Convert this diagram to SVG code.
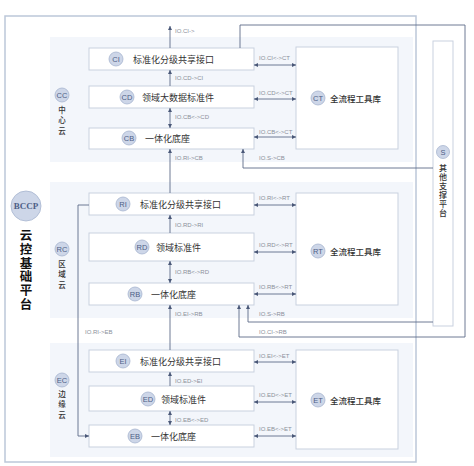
<svg xmlns="http://www.w3.org/2000/svg" width="474" height="466" viewBox="0 0 474 466">
<style>
text{font-family:"Noto Sans CJK SC","Noto Sans",sans-serif;dominant-baseline:central}
.frame{fill:#fff;stroke:#bcc7d9;stroke-width:1.5}
.panel{fill:#f3f6fb;stroke:none}
.box{fill:#fff;stroke:#c9d1df;stroke-width:1}
.circ{fill:#cdd6e8;stroke:#a7b5cf;stroke-width:0.8}
.ct{font-family:"Liberation Sans","Noto Sans",sans-serif;font-size:7.5px;fill:#4d5e86;text-anchor:middle}
.bt{font-size:9px;fill:#333}
.tt{font-size:8.5px;fill:#333;font-weight:500}
.vt{font-size:7.5px;fill:#333;font-weight:500;writing-mode:vertical-rl;letter-spacing:3px}
.lbl{font-family:"Liberation Sans",sans-serif;font-size:6px;fill:#8a8f9a}
.ln{fill:none;stroke:#5d6b88;stroke-width:0.9}
</style>
<defs>
<marker id="ah" viewBox="0 0 6 6" refX="6" refY="3" markerWidth="4" markerHeight="4" markerUnits="userSpaceOnUse" orient="auto-start-reverse"><path d="M0,0 L6,3 L0,6 Z" fill="#4a5878"/></marker>
</defs>
<rect class="frame" x="5" y="16" width="411" height="446"/>
<rect class="panel" x="50" y="37" width="363" height="125"/>
<rect class="panel" x="50" y="182" width="363" height="136"/>
<rect class="panel" x="50" y="343" width="363" height="114"/>

<g id="BCCP">
<circle class="circ" cx="26" cy="206" r="15"/>
<text x="26" y="206" style="font-family:'Liberation Serif',serif;font-size:9px;font-weight:bold;fill:#4d5e86;text-anchor:middle">BCCP</text>
<text x="26" y="229" style="font-size:12.5px;font-weight:bold;fill:#111;writing-mode:vertical-rl;letter-spacing:1.3px">云控基础平台</text>
</g>

<g id="CC"><circle class="circ" cx="62" cy="95" r="7"/><text class="ct" x="62" y="95">CC</text>
<text class="vt" x="62" y="106">中心云</text></g>
<g id="RC"><circle class="circ" cx="62" cy="249" r="7"/><text class="ct" x="62" y="249">RC</text>
<text class="vt" x="62" y="260">区域云</text></g>
<g id="EC"><circle class="circ" cx="62" cy="380" r="7"/><text class="ct" x="62" y="380">EC</text>
<text class="vt" x="62" y="390">边缘云</text></g>

<g id="CI"><rect class="box" x="89" y="48" width="165" height="22"/><circle class="circ" cx="116" cy="59" r="7"/><text class="ct" x="116" y="59">CI</text><text class="bt" x="133" y="59">标准化分级共享接口</text></g>
<g id="CD"><rect class="box" x="89" y="86" width="165" height="22"/><circle class="circ" cx="127" cy="97" r="7"/><text class="ct" x="127" y="97">CD</text><text class="bt" x="142" y="97">领域大数据标准件</text></g>
<g id="CB"><rect class="box" x="89" y="128" width="165" height="21"/><circle class="circ" cx="129" cy="138" r="7"/><text class="ct" x="129" y="138">CB</text><text class="bt" x="145" y="138">一体化底座</text></g>
<g id="CT"><rect class="box" x="296" y="47" width="102" height="102"/><circle class="circ" cx="318" cy="98" r="7"/><text class="ct" x="318" y="98">CT</text><text class="tt" x="330" y="98">全流程工具库</text></g>

<g id="RI"><rect class="box" x="89" y="193" width="165" height="22"/><circle class="circ" cx="123" cy="204" r="7"/><text class="ct" x="123" y="204">RI</text><text class="bt" x="140" y="204">标准化分级共享接口</text></g>
<g id="RD"><rect class="box" x="89" y="233" width="165" height="28"/><circle class="circ" cx="142" cy="247" r="7"/><text class="ct" x="142" y="247">RD</text><text class="bt" x="156" y="247">领域标准件</text></g>
<g id="RB"><rect class="box" x="89" y="283" width="165" height="22"/><circle class="circ" cx="135" cy="294" r="7"/><text class="ct" x="135" y="294">RB</text><text class="bt" x="151" y="294">一体化底座</text></g>
<g id="RT"><rect class="box" x="296" y="193" width="102" height="112"/><circle class="circ" cx="318" cy="251" r="7"/><text class="ct" x="318" y="251">RT</text><text class="tt" x="330" y="251">全流程工具库</text></g>

<g id="EI"><rect class="box" x="89" y="350" width="165" height="22"/><circle class="circ" cx="123" cy="361" r="7"/><text class="ct" x="123" y="361">EI</text><text class="bt" x="140" y="361">标准化分级共享接口</text></g>
<g id="ED"><rect class="box" x="89" y="386" width="165" height="25"/><circle class="circ" cx="148" cy="399" r="7"/><text class="ct" x="148" y="399">ED</text><text class="bt" x="161" y="399">领域标准件</text></g>
<g id="EB"><rect class="box" x="89" y="425" width="165" height="22"/><circle class="circ" cx="135" cy="436" r="7"/><text class="ct" x="135" y="436">EB</text><text class="bt" x="151" y="436">一体化底座</text></g>
<g id="ET"><rect class="box" x="296" y="350" width="102" height="99"/><circle class="circ" cx="318" cy="400" r="7"/><text class="ct" x="318" y="400">ET</text><text class="tt" x="330" y="400">全流程工具库</text></g>

<g id="S"><rect class="box" x="433" y="41" width="20" height="285"/><circle class="circ" cx="443" cy="152" r="6.5"/><text class="ct" x="443" y="152">S</text>
<text class="vt" x="443" y="164" style="font-size:8px;letter-spacing:1px">其他支撑平台</text></g>

<g id="connectors">
<path class="ln" d="M170,48 V26" marker-end="url(#ah)"/>
<path class="ln" d="M170,86 V70" marker-end="url(#ah)"/>
<path class="ln" d="M170,128 V108" marker-start="url(#ah)" marker-end="url(#ah)"/>
<path class="ln" d="M170,193 V149" marker-end="url(#ah)"/>
<path class="ln" d="M170,233 V215" marker-end="url(#ah)"/>
<path class="ln" d="M170,283 V261" marker-start="url(#ah)" marker-end="url(#ah)"/>
<path class="ln" d="M170,350 V305" marker-end="url(#ah)"/>
<path class="ln" d="M170,386 V372" marker-end="url(#ah)"/>
<path class="ln" d="M170,425 V411" marker-start="url(#ah)" marker-end="url(#ah)"/>

<path class="ln" d="M254,65 H296" marker-start="url(#ah)" marker-end="url(#ah)"/>
<path class="ln" d="M254,99 H296" marker-start="url(#ah)" marker-end="url(#ah)"/>
<path class="ln" d="M254,137 H296" marker-start="url(#ah)" marker-end="url(#ah)"/>
<path class="ln" d="M254,205 H296" marker-start="url(#ah)" marker-end="url(#ah)"/>
<path class="ln" d="M254,252 H296" marker-start="url(#ah)" marker-end="url(#ah)"/>
<path class="ln" d="M254,294 H296" marker-start="url(#ah)" marker-end="url(#ah)"/>
<path class="ln" d="M254,362 H296" marker-start="url(#ah)" marker-end="url(#ah)"/>
<path class="ln" d="M254,402 H296" marker-start="url(#ah)" marker-end="url(#ah)"/>
<path class="ln" d="M254,436 H296" marker-start="url(#ah)" marker-end="url(#ah)"/>

<path class="ln" d="M240,48 V25 H465 V337 H239 V305" marker-end="url(#ah)"/>
<path class="ln" d="M433,168 H243 V149" marker-end="url(#ah)"/>
<path class="ln" d="M433,322 H248 V305" marker-end="url(#ah)"/>
<path class="ln" d="M89,205 H78 V436 H89" marker-end="url(#ah)"/>

<text class="lbl" x="175" y="31">IO.CI-&gt;</text>
<text class="lbl" x="175" y="78">IO.CD-&gt;CI</text>
<text class="lbl" x="175" y="117">IO.CB&lt;-&gt;CD</text>
<text class="lbl" x="175" y="158">IO.RI-&gt;CB</text>
<text class="lbl" x="175" y="225">IO.RD-&gt;RI</text>
<text class="lbl" x="175" y="272">IO.RB&lt;-&gt;RD</text>
<text class="lbl" x="175" y="314">IO.EI-&gt;RB</text>
<text class="lbl" x="175" y="381">IO.ED-&gt;EI</text>
<text class="lbl" x="175" y="420">IO.EB&lt;-&gt;ED</text>

<text class="lbl" x="259" y="58">IO.CI&lt;-&gt;CT</text>
<text class="lbl" x="259" y="93">IO.CD&lt;-&gt;CT</text>
<text class="lbl" x="259" y="132">IO.CB&lt;-&gt;CT</text>
<text class="lbl" x="259" y="198">IO.RI&lt;-&gt;RT</text>
<text class="lbl" x="259" y="245">IO.RD&lt;-&gt;RT</text>
<text class="lbl" x="259" y="287">IO.RB&lt;-&gt;RT</text>
<text class="lbl" x="259" y="356">IO.EI&lt;-&gt;ET</text>
<text class="lbl" x="259" y="395">IO.ED&lt;-&gt;ET</text>
<text class="lbl" x="259" y="429">IO.EB&lt;-&gt;ET</text>

<text class="lbl" x="259" y="158">IO.S-&gt;CB</text>
<text class="lbl" x="259" y="314">IO.S-&gt;RB</text>
<text class="lbl" x="259" y="332">IO.CI-&gt;RB</text>
<text class="lbl" x="85" y="332">IO.RI-&gt;EB</text>
</g>
</svg>
